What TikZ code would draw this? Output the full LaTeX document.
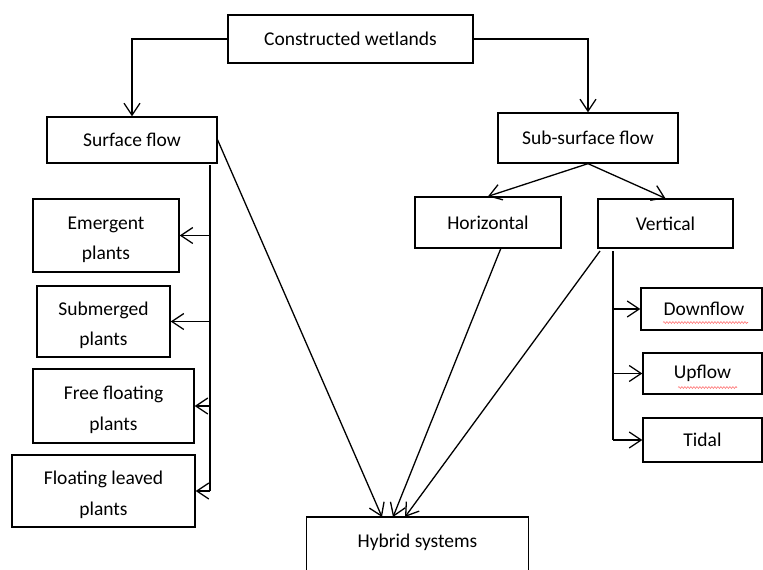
\documentclass[tikz,border=0pt]{standalone}
\usepackage{fontspec}
\setmainfont{Carlito}
\usetikzlibrary{arrows.meta,calc,decorations.pathmorphing}
\newcommand\toppad{\rule{0pt}{21pt}}
\begin{document}
\begin{tikzpicture}[x=1pt,y=-1pt,
  box/.style={draw, line width=1.3pt, align=center, inner sep=0pt,
    font=\fontsize{19.5}{30.5}\selectfont},
  arr/.style={line width=1.3pt, -{Straight Barb[length=12pt,width=16pt]}},
  lin/.style={line width=1.3pt},
  spell/.style={draw=red!55, line width=0.6pt, decorate,
    decoration={snake, amplitude=0.9pt, segment length=3pt}}]
\useasboundingbox (0,0) rectangle (763,570);
\clip (0,0) rectangle (763,570);
% nodes
\node[box, minimum width=245, minimum height=48] (cw) at (350.5,39) {Constructed wetlands};
\node[box, minimum width=170, minimum height=46] (sf) at (132,140) {Surface flow};
\node[box, minimum width=180, minimum height=50] (ssf) at (588,138) {Sub-surface flow};
\node[box, minimum width=146, minimum height=51] (hor) at (488,222.5) {Horizontal};
\node[box, minimum width=135, minimum height=49] (ver) at (665.5,223.5) {Vertical};
\node[box, minimum width=146, minimum height=73] (em) at (106,235.5) {\toppad Emergent\\plants};
\node[box, minimum width=133, minimum height=71] (sub) at (103.5,321.5) {\toppad Submerged\\plants};
\node[box, minimum width=161, minimum height=74] (ff) at (113.5,406) {\toppad Free floating\\plants};
\node[box, minimum width=183, minimum height=72] (fl) at (103.5,491) {\toppad Floating leaved\\plants};
\node[box, draw=none, minimum width=221, minimum height=50, anchor=north] (hyb) at (417.5,517) {Hybrid systems};
\draw[lin] (hyb.south west) ++(0,30) -- (hyb.north west) -- (hyb.north east) -- ++(0,80);
\node[box, minimum width=121, minimum height=42] (down) at (701.5,309) {\hspace*{5pt}Downflow};
\node[box, minimum width=119, minimum height=41] (up) at (702.5,373.5) {Upflow};
\node[box, minimum width=119, minimum height=44] (tid) at (702.5,440) {Tidal};
% spell-check underlines
\draw[spell] (663,322.5) -- (748,322.5);
\draw[spell] (678,387.5) -- (737,387.5);
% coordinates
\coordinate (sfb) at (210,165);
\coordinate (sfe) at (210,491);
\coordinate (vb) at (613,251);
\coordinate (ve) at (613,440);
\coordinate (hs) at (501,248);
\coordinate (vs) at (600,251);
\coordinate (h1) at (382,517);
\coordinate (h2) at (393,517);
\coordinate (h3) at (405,517);
% connectors
\draw[arr] (cw.west) -| (sf.north);
\draw[arr] (cw.east) -| (ssf.north);
\draw[arr] (ssf.south) -- (hor.north);
\draw[arr] (ssf.south) -- (ver.north);
\draw[lin] (sfb) -- (sfe);
\draw[arr] (sfb |- em.east) -- (em.east);
\draw[arr] (sfb |- sub.east) -- (sub.east);
\draw[arr] (sfb |- ff.east) -- (ff.east);
\draw[arr] (sfe) -- (fl.east);
\draw[lin] (vb) -- (ve);
\draw[arr] (vb |- down.west) -- (down.west);
\draw[arr] (vb |- up.west) -- (up.west);
\draw[arr] (ve) -- (tid.west);
\draw[arr] (sf.east) -- (h1);
\draw[arr] (hs) -- (h2);
\draw[arr] (vs) -- (h3);
\end{tikzpicture}
\end{document}
